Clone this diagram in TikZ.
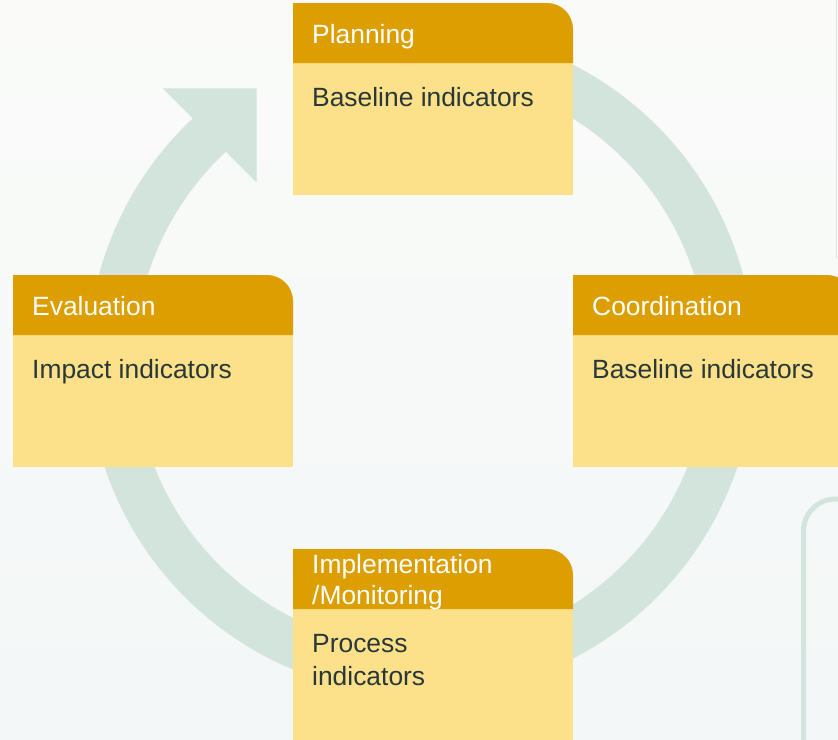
\documentclass[tikz,border=0pt]{standalone}
\usepackage{fontspec}
\setmainfont{Liberation Sans}
\definecolor{ringc}{HTML}{D3E4DD}
\definecolor{headc}{HTML}{DC9E00}
\definecolor{bodyc}{HTML}{FDE18A}
\definecolor{txtc}{HTML}{283838}
\definecolor{bgtop}{HTML}{FAFBF9}
\definecolor{bgbot}{HTML}{F3F7F7}
\definecolor{edgec}{HTML}{DCE4E1}
\tikzset{
  head/.style={fill=headc},
  body/.style={fill=bodyc},
  headtxt/.style={anchor=base west, inner sep=0pt, text=white, align=left, font=\fontsize{26.4}{31.5}\selectfont},
  bodytxt/.style={anchor=base west, inner sep=0pt, text=txtc, align=left, font=\fontsize{26.4}{33}\selectfont},
  ring/.style={draw=ringc, line width=47pt},
}
\begin{document}
\begin{tikzpicture}[x=1pt, y=-1pt]
\useasboundingbox (0,0) rectangle (838,739);
\clip (0,0) rectangle (838,739);
\shade[top color=bgtop, bottom color=bgbot] (0,0) rectangle (838,739);
\draw[ring] (421,361.5) ++(260:310) arc[start angle=260, end angle=589, radius=310];
\fill[ringc] (162.7,88.3) -- (256.7,88.3) -- (256.7,182.7) -- cycle;
\draw[edgec, line width=1.5pt] (836.5,-5) -- (836.5,258);
\draw[ringc, line width=5pt, rounded corners=32pt] (803.5,760) -- (803.5,499) -- (870,499);
\foreach \id/\l/\t/\head/\hy/\body/\by in {
    plan/293/3/Planning/40.3/Baseline indicators/103.7,
    coord/573/275/Coordination/40.3/Baseline indicators/103.7,
    eval/13/275/Evaluation/40.3/Impact indicators/103.7,
    impl/293/549/{Implementation\\/Monitoring}/55.5/{Process\\indicators}/136.3}
  {\fill[body] (\l,\t+60) rectangle ++(280,132);
   \fill[head] (\l,\t+60) -- (\l,\t) -- ++(254,0) arc[start angle=-90, end angle=0, radius=26] -- (\l+280,\t+60) -- cycle;
   \node[headtxt] (\id-head) at (\l+19,\t+\hy) {\head};
   \node[bodytxt] (\id-body) at (\l+19,\t+\by) {\body};};
\end{tikzpicture}
\end{document}
